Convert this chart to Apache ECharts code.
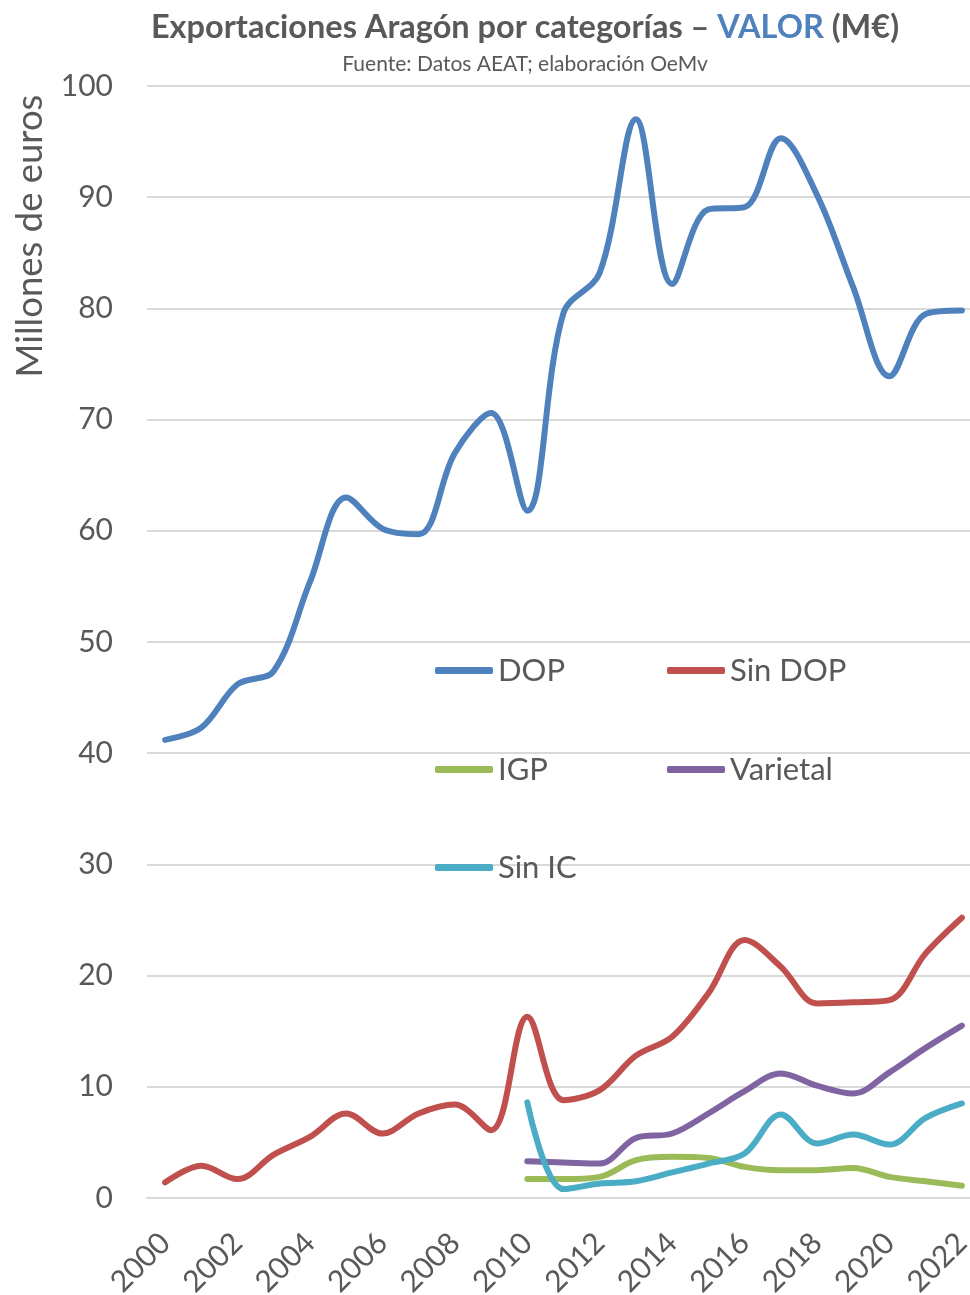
<!DOCTYPE html>
<html>
<head>
<meta charset="utf-8">
<script src="https://cdn.jsdelivr.net/npm/echarts@6/dist/echarts.min.js"></script>
<style>
html,body{margin:0;padding:0;background:#fff;}
#chart{width:970px;height:1295px;}
</style>
</head>
<body>
<div id="chart"></div>
<script>
const years = ['2000','2001','2002','2003','2004','2005','2006','2007','2008','2009','2010','2011','2012','2013','2014','2015','2016','2017','2018','2019','2020','2021','2022'];
const dop = [41.2, 42.3, 46.2, 47.4, 55.4, 63.0, 60.2, 59.7, 67.0, 70.6, 61.8, 79.6, 83.2, 97.0, 82.2, 88.9, 89.1, 95.3, 90.2, 81.9, 73.9, 79.5, 79.8];
const sinDop = [1.4, 2.9, 1.7, 3.9, 5.5, 7.6, 5.8, 7.6, 8.4, 6.1, 16.3, 8.8, 9.7, 12.8, 14.5, 18.4, 23.2, 20.8, 17.5, 17.6, 17.8, 22.0, 25.2];
const igp = [null, null, null, null, null, null, null, null, null, null, 1.7, 1.7, 1.9, 3.4, 3.7, 3.6, 2.8, 2.5, 2.5, 2.7, 1.9, 1.5, 1.1];
const varietal = [null, null, null, null, null, null, null, null, null, null, 3.3, 3.2, 3.1, 5.4, 5.8, 7.6, 9.6, 11.2, 10.1, 9.4, 11.3, 13.5, 15.5];
const sinIc = [null, null, null, null, null, null, null, null, null, null, 8.6, 0.8, 1.3, 1.5, 2.3, 3.1, 4.0, 7.5, 4.9, 5.7, 4.8, 7.2, 8.5];
const seriesNames = ['DOP', 'Sin DOP', 'IGP', 'Varietal', 'Sin IC'];
const seriesData = [dop, sinDop, igp, varietal, sinIc];
const colors = ['#4f81bd', '#c0504d', '#9bbb59', '#8064a2', '#4bacc6'];
const yTicks = {min: 0, max: 100, interval: 10};
const titleMain = 'Exportaciones Aragón por categorías – ';
const titleBlue = 'VALOR';
const titleEnd = ' (M€)';
const subtitle = 'Fuente: Datos AEAT; elaboración OeMv';
const yName = 'Millones de euros';

const FONT = 'Lato';
const GREY = '#595959';

const chart = echarts.init(document.getElementById('chart'), null, {renderer: 'canvas'});

// legend layout: two columns, three rows
const legendCols = [430, 662];
const legendRows = [650, 749, 847];

function legendFor(name, idx) {
  return {
    data: [name],
    left: legendCols[idx % 2],
    top: legendRows[Math.floor(idx / 2)],
    orient: 'horizontal',
    icon: 'roundRect',
    itemWidth: 58,
    itemHeight: 7,
    textStyle: {fontFamily: FONT, fontSize: 31, color: GREY},
    selectedMode: false
  };
}

const option = {
  animation: false,
  backgroundColor: '#ffffff',
  color: colors,
  title: [
    {
      text: '{a|' + titleMain + '}{b|' + titleBlue + '}{a|' + titleEnd + '}',
      left: 520, top: 6, textAlign: 'center',
      textStyle: {
        rich: {
          a: {fontFamily: FONT, fontWeight: 'bold', fontSize: 32.5, color: GREY},
          b: {fontFamily: FONT, fontWeight: 'bold', fontSize: 32.5, color: '#4f81bd'}
        }
      }
    },
    {
      text: subtitle,
      left: 520, top: 49, textAlign: 'center',
      textStyle: {fontFamily: FONT, fontWeight: 'normal', fontSize: 21, color: GREY}
    }
  ],
  legend: seriesNames.map((n, i) => legendFor(n, i)),
  grid: {left: 147, top: 86, width: 833, height: 1112, containLabel: false, outerBoundsMode: 'none'},
  xAxis: {
    type: 'category',
    data: years,
    boundaryGap: true,
    axisLine: {show: true, lineStyle: {color: '#d9d9d9', width: 2}},
    axisTick: {show: false},
    axisLabel: {
      interval: 1,
      rotate: 45,
      margin: 40,
      fontFamily: FONT,
      fontSize: 30,
      color: GREY
    },
    splitLine: {show: false}
  },
  yAxis: {
    type: 'value',
    min: yTicks.min, max: yTicks.max, interval: yTicks.interval,
    axisLine: {show: false},
    axisTick: {show: false},
    axisLabel: {margin: 34, fontFamily: FONT, fontSize: 30, color: GREY},
    splitLine: {show: true, lineStyle: {color: '#d9d9d9', width: 2}}
  },
  graphic: [
    {
      type: 'text',
      x: 30, y: 236,
      rotation: Math.PI / 2,
      style: {
        text: yName,
        fontFamily: FONT, fontSize: 36.5, fill: GREY,
        textAlign: 'center', textVerticalAlign: 'middle'
      }
    }
  ],
  series: seriesNames.map((n, i) => ({
    name: n,
    type: 'line',
    data: seriesData[i],
    smooth: 0.35,
    symbol: 'none',
    connectNulls: false,
    lineStyle: {width: 6, color: colors[i], cap: 'round', join: 'round'},
    itemStyle: {color: colors[i]},
    emphasis: {disabled: true}
  }))
};

chart.setOption(option);
</script>
</body>
</html>
